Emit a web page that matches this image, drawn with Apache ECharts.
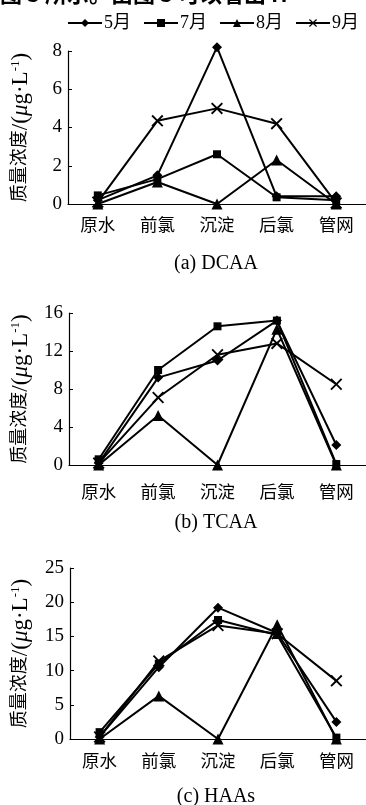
<!DOCTYPE html>
<html><head><meta charset="utf-8">
<script src="https://cdn.jsdelivr.net/npm/echarts@6/dist/echarts.min.js"></script>
<style>html,body{margin:0;padding:0;background:#fff}#c{width:366px;height:805px}</style>
</head><body><div id="c"></div>
<script>
const categories = ['原水', '前氯', '沉淀', '后氯', '管网'];
const seriesNames = ['5月', '7月', '8月', '9月'];
const panelTitles = ['(a) DCAA', '(b) TCAA', '(c) HAAs'];
const yMax = [8, 16, 25];
const yInterval = [2, 4, 5];

// DCAA
const dcaaMay = [0.2, 1.5, 8.2, 0.4, 0.4];
const dcaaJul = [0.45, 1.3, 2.6, 0.35, 0.2];
const dcaaAug = [0, 1.15, 0, 2.3, 0];
const dcaaSep = [0.1, 4.35, 5.0, 4.2, 0.05];
// TCAA
const tcaaMay = [0.2, 9.2, 11.0, 15.2, 2.1];
const tcaaJul = [0.6, 10.0, 14.6, 15.2, 0.1];
const tcaaAug = [0, 5.2, 0, 14.3, 0];
const tcaaSep = [0.2, 7.1, 11.6, 12.8, 8.5];
// HAAs
const haaMay = [0.3, 10.5, 19.2, 15.5, 2.5];
const haaJul = [1.0, 11.0, 17.4, 15.2, 0.2];
const haaAug = [0, 6.3, 0, 16.7, 0];
const haaSep = [0.3, 11.4, 16.6, 15.4, 8.5];

const panelData = [
  [dcaaMay, dcaaJul, dcaaAug, dcaaSep],
  [tcaaMay, tcaaJul, tcaaAug, tcaaSep],
  [haaMay, haaJul, haaAug, haaSep]
];

const serif = '"Liberation Serif","Noto Sans CJK SC",serif';
const symbols = ['diamond', 'rect', 'triangle',
  'path://M0,1.1L1.1,0L5,3.9L8.9,0L10,1.1L6.1,5L10,8.9L8.9,10L5,6.1L1.1,10L0,8.9L3.9,5Z'];
const symbolSizes = [10, 8, 11, 12];

const grids = [
  {left: 68, top: 51, width: 300, height: 153},
  {left: 69, top: 313, width: 300, height: 152},
  {left: 70, top: 568, width: 300, height: 171}
];
const labelMargins = [14, 20, 15];
const nameGaps = [36, 37, 38];

const xAxes = grids.map((g, i) => ({
  type: 'category', gridIndex: i, data: categories, boundaryGap: true,
  axisLine: {lineStyle: {color: '#000', width: 1.2}},
  axisTick: {inside: true, length: 5, lineStyle: {color: '#000'}},
  axisLabel: {color: '#000', fontSize: 17.5, fontFamily: serif, margin: labelMargins[i]}
}));
const nameRich = {
  a: {fontSize: 18, fontFamily: serif, color: '#000'},
  l: {fontSize: 23, fontFamily: serif, color: '#000'},
  i: {fontStyle: 'italic', fontSize: 23, fontFamily: serif, color: '#000'},
  s: {fontSize: 13, verticalAlign: 'top', fontFamily: serif, color: '#000'}
};
const yAxes = grids.map((g, i) => ({
  type: 'value', gridIndex: i, min: 0, max: yMax[i], interval: yInterval[i],
  splitLine: {show: false},
  axisLine: {show: true, lineStyle: {color: '#000', width: 1.2}},
  axisTick: {show: true, inside: true, length: 4, lineStyle: {color: '#000'}},
  axisLabel: {color: '#000', fontSize: 19, fontFamily: serif, margin: 6},
  name: '{a|质量浓度}{l|/(}{i|μ}{l|g·L}{s|-1}{l|)}',
  nameLocation: 'middle', nameRotate: 90, nameGap: nameGaps[i],
  nameTextStyle: {color: '#000', fontSize: 18, fontFamily: serif, rich: nameRich}
}));

const series = [];
panelData.forEach((arr, p) => {
  arr.forEach((vals, k) => {
    series.push({
      name: seriesNames[k], type: 'line', xAxisIndex: p, yAxisIndex: p,
      data: vals, symbol: symbols[k], symbolSize: symbolSizes[k],
      showSymbol: true, animation: false, clip: false,
      lineStyle: {color: '#000', width: 2},
      itemStyle: {color: '#000'}
    });
  });
});

const titleY = [264, 523, 797];
const graphics = panelTitles.map((t, i) => ({
  type: 'text', x: 216, y: titleY[i],
  style: {text: t, textAlign: 'center', textVerticalAlign: 'middle',
    font: '20px ' + serif, fill: '#000'}
}));
graphics.push({
  type: 'text', x: 0, y: -17,
  style: {text: '图 3 所示。由图 3 可以看出 H', textVerticalAlign: 'top',
    font: 'bold 22px "Noto Sans CJK SC",sans-serif', fill: '#000'}
});

const chart = echarts.init(document.getElementById('c'), null, {renderer: 'canvas'});
chart.setOption({
  backgroundColor: '#fff',
  animation: false,
  legend: {
    data: seriesNames, left: 62, top: 9, itemGap: 12, itemWidth: 34, itemHeight: 10,
    textStyle: {color: '#000', fontSize: 18, fontFamily: serif, padding: [0, 0, 0, -3]},
    inactiveColor: '#000'
  },
  grid: grids,
  xAxis: xAxes,
  yAxis: yAxes,
  series: series,
  graphic: graphics
});
</script></body></html>
